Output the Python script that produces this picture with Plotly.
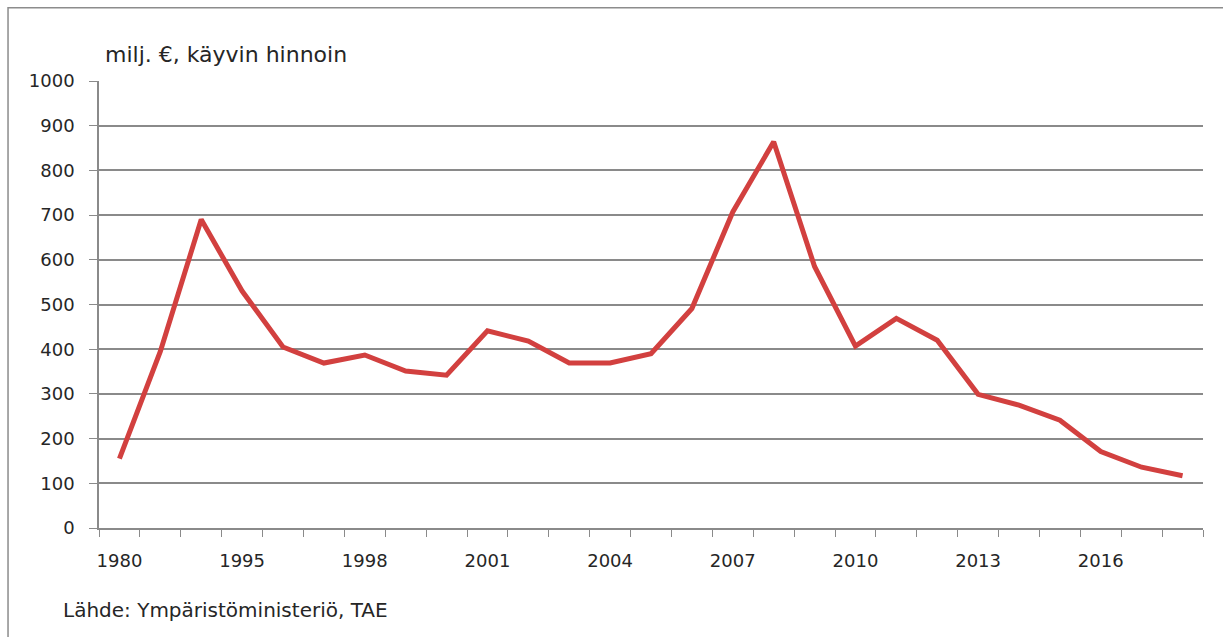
import plotly.graph_objects as go

# Vuodet (kategoria-akseli) ja arvot, milj. € käyvin hinnoin
years = ["1980", "1985", "1990"] + [str(y) for y in range(1995, 2019)]
values = [155, 395, 690, 530, 405, 369, 387, 351, 342, 441, 418, 369, 369,
          390, 491, 707, 864, 585, 407, 469, 420, 299, 275, 241, 171, 136, 117]
labelled_years = ["1980", "1995", "1998", "2001", "2004", "2007", "2010", "2013", "2016"]
y_ticks = list(range(0, 1001, 100))

ytitle = "milj. €, käyvin hinnoin"
source = "Lähde: Ympäristöministeriö, TAE"

FONT = "DejaVu Sans"
TXT = "#262626"
GRID = "#8a8a8a"
LINE = "#d2403f"

fig = go.Figure()
fig.add_trace(go.Scatter(
    x=years, y=values, mode="lines",
    line=dict(color=LINE, width=5, shape="linear"),
    hoverinfo="x+y", showlegend=False,
))

fig.update_xaxes(
    type="category",
    categoryorder="array", categoryarray=years,
    tickmode="array", tickvals=years,
    ticktext=[y if y in labelled_years else "" for y in years],
    tickson="boundaries", tickangle=0,
    ticks="outside", ticklen=7, tickwidth=1.2, tickcolor=GRID,
    showline=True, linecolor=GRID, linewidth=1.5,
    showgrid=False,
    tickfont=dict(family=FONT, size=18, color=TXT),
    ticklabelstandoff=16,
    range=[-0.5, len(years) - 0.5],
)
fig.update_yaxes(
    range=[0, 1000], tickmode="array", tickvals=y_ticks,
    ticks="outside", ticklen=8, tickwidth=1.2, tickcolor=GRID,
    showline=True, linecolor=GRID, linewidth=1.5,
    showgrid=True, gridcolor=GRID, gridwidth=1.5,
    zeroline=False,
    tickfont=dict(family=FONT, size=18, color=TXT),
    ticklabelstandoff=11,
)

# Reunakehys kaavion ympärillä
fig.add_shape(type="rect", xref="paper", yref="paper",
              x0=-0.0824, x1=1.2, y0=-0.6, y1=1.164,
              line=dict(color="#8c8c8c", width=1.5), layer="below")

fig.add_annotation(text=ytitle, xref="paper", yref="paper",
                   x=0.004, y=1.06, xanchor="left", yanchor="middle",
                   showarrow=False, font=dict(family=FONT, size=22, color=TXT))
fig.add_annotation(text=source, xref="paper", yref="paper",
                   x=-0.0345, y=-0.183, xanchor="left", yanchor="middle",
                   showarrow=False, font=dict(family=FONT, size=20, color=TXT))

fig.update_layout(
    width=1223, height=637,
    margin=dict(l=99, r=20, t=81, b=109),
    paper_bgcolor="white", plot_bgcolor="white",
    font=dict(family=FONT, color=TXT),
)

fig.write_html("out.html")
